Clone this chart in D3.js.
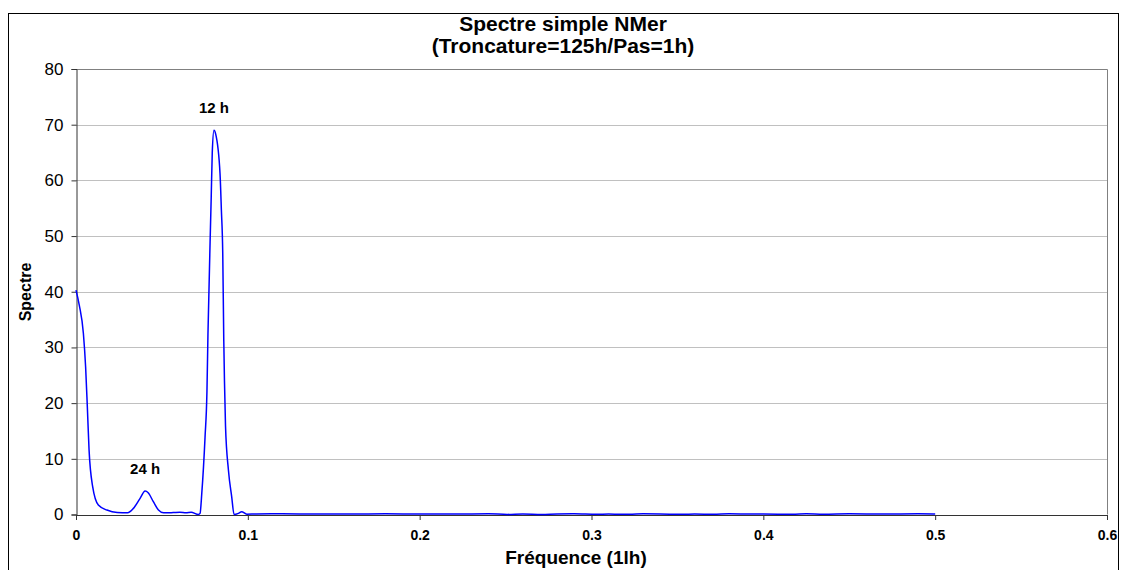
<!DOCTYPE html>
<html><head><meta charset="utf-8">
<script src="https://cdn.jsdelivr.net/npm/d3@7"></script>
<style>body{margin:0;background:#fff}svg{display:block}text{font-family:"Liberation Sans",Arial,sans-serif}</style>
</head><body><svg id="c" width="1126" height="570"></svg>
<script>
const freq = [0, 0.0019, 0.0043, 0.0056, 0.0066, 0.0076, 0.0097, 0.013, 0.018, 0.024, 0.030,
  0.0334, 0.0373, 0.0402, 0.042, 0.045, 0.048, 0.051, 0.0566, 0.0605, 0.064, 0.067, 0.0712,
  0.0722, 0.0732, 0.0751, 0.0762, 0.0768, 0.0787, 0.0793, 0.0803, 0.0813, 0.0838, 0.0846,
  0.0854, 0.086, 0.0864, 0.087, 0.0887, 0.0906, 0.092, 0.0945, 0.0964, 0.0994,
  0.105, 0.12, 0.14, 0.16, 0.18, 0.2, 0.22, 0.24, 0.251, 0.26, 0.271, 0.28, 0.29, 0.303,
  0.31, 0.317, 0.322, 0.33, 0.34, 0.353, 0.36, 0.371, 0.38, 0.39, 0.4, 0.417, 0.425, 0.435,
  0.45, 0.47, 0.49, 0.5];
const spectre = [40.3, 37.6, 32.5, 26.5, 19.3, 11.6, 5.0, 1.7, 0.8, 0.35, 0.3,
  1.1, 2.9, 4.2, 3.9, 2.3, 0.8, 0.3, 0.35, 0.4, 0.3, 0.4, 0.0,
  0.2, 3.8, 13.9, 22.0, 32.5, 57.1, 65.0, 69.0, 68.3, 61.3, 54.7,
  46.9, 31.3, 24.0, 16.0, 8.0, 3.2, 0.0, 0.2, 0.5, 0.05,
  0.1, 0.12, 0.1, 0.1, 0.12, 0.1, 0.1, 0.12, 0.02, 0.1, 0.02, 0.1, 0.12, 0.03,
  0.1, 0.03, 0.03, 0.12, 0.1, 0.03, 0.1, 0.03, 0.12, 0.1, 0.1, 0.03, 0.12, 0.05,
  0.12, 0.1, 0.12, 0.1];
const yTicks = [0, 10, 20, 30, 40, 50, 60, 70, 80];
const xTicks = [0, 0.1, 0.2, 0.3, 0.4, 0.5, 0.6];
const annotations = [{label: "12 h", f: 0.0803, v: 69}, {label: "24 h", f: 0.0402, v: 4.2}];
const titleLines = ["Spectre simple NMer", "(Troncature=125h/Pas=1h)"];

const svg = d3.select("#c");
const L = 76, R = 1107, T = 69, B = 514.5;
const x = d3.scaleLinear().domain([0, 0.6]).range([L, R]);
const y = d3.scaleLinear().domain([0, 80]).range([B, T]);

// chart border
svg.append("rect").attr("x", 8.5).attr("y", 13.5).attr("width", 1110).attr("height", 570)
  .attr("fill", "none").attr("stroke", "#000").attr("stroke-width", 1);

// gridlines
svg.append("g").selectAll("line").data(yTicks.slice(1)).join("line")
  .attr("x1", L).attr("x2", R).attr("y1", d => Math.round(y(d)) + 0.5).attr("y2", d => Math.round(y(d)) + 0.5)
  .attr("stroke", "#c0c0c0").attr("stroke-width", 1);
// plot area top/right border
svg.append("path").attr("d", `M${L},${Math.round(y(80))+0.5}H${R+0.5}V${B}`)
  .attr("fill", "none").attr("stroke", "#808080").attr("stroke-width", 1);

// axes
const yAxis = svg.append("g").attr("transform", `translate(${L+0.5},0)`)
  .call(d3.axisLeft(y).tickValues(yTicks).tickSize(5).tickPadding(8).tickFormat(d3.format("d")));
yAxis.select(".domain").attr("stroke", "#333");
yAxis.selectAll(".tick line").attr("stroke", "#333");
yAxis.selectAll("text").attr("font-size", 17).attr("fill", "#000")
  .style("font-family", '"Liberation Sans",Arial,sans-serif');

const xAxis = svg.append("g").attr("transform", `translate(0,${B+0.5})`)
  .call(d3.axisBottom(x).tickValues(xTicks).tickSize(5).tickPadding(10).tickFormat(d => d === 0 ? "0" : d3.format(".1f")(d)));
xAxis.select(".domain").attr("stroke", "#333");
xAxis.selectAll(".tick line").attr("stroke", "#333");
xAxis.selectAll("text").attr("font-size", 14).attr("font-weight", "bold").attr("fill", "#000")
  .style("font-family", '"Liberation Sans",Arial,sans-serif');

// line
const pts = freq.map((f, i) => [f, spectre[i]]);
svg.append("path").datum(pts)
  .attr("d", d3.line().x(d => x(d[0])).y(d => y(d[1])).curve(d3.curveMonotoneX))
  .attr("fill", "none").attr("stroke", "#0000ff").attr("stroke-width", 1.5);

// annotations
svg.append("g").selectAll("text").data(annotations).join("text")
  .attr("x", d => x(d.f)).attr("y", d => y(d.v) - 17)
  .attr("text-anchor", "middle").attr("font-size", 15).attr("font-weight", "bold").text(d => d.label);

// title
svg.append("g").selectAll("text").data(titleLines).join("text")
  .attr("x", 563).attr("y", (d, i) => 31 + i * 22)
  .attr("text-anchor", "middle").attr("font-size", 21).attr("font-weight", "bold").text(d => d);

// axis titles
svg.append("text").attr("x", 576).attr("y", 564).attr("text-anchor", "middle")
  .attr("font-size", 19).attr("font-weight", "bold").text("Fréquence (1lh)");
svg.append("text").attr("transform", "translate(31,292) rotate(-90)").attr("text-anchor", "middle")
  .attr("font-size", 16).attr("font-weight", "bold").text("Spectre");
</script></body></html>
